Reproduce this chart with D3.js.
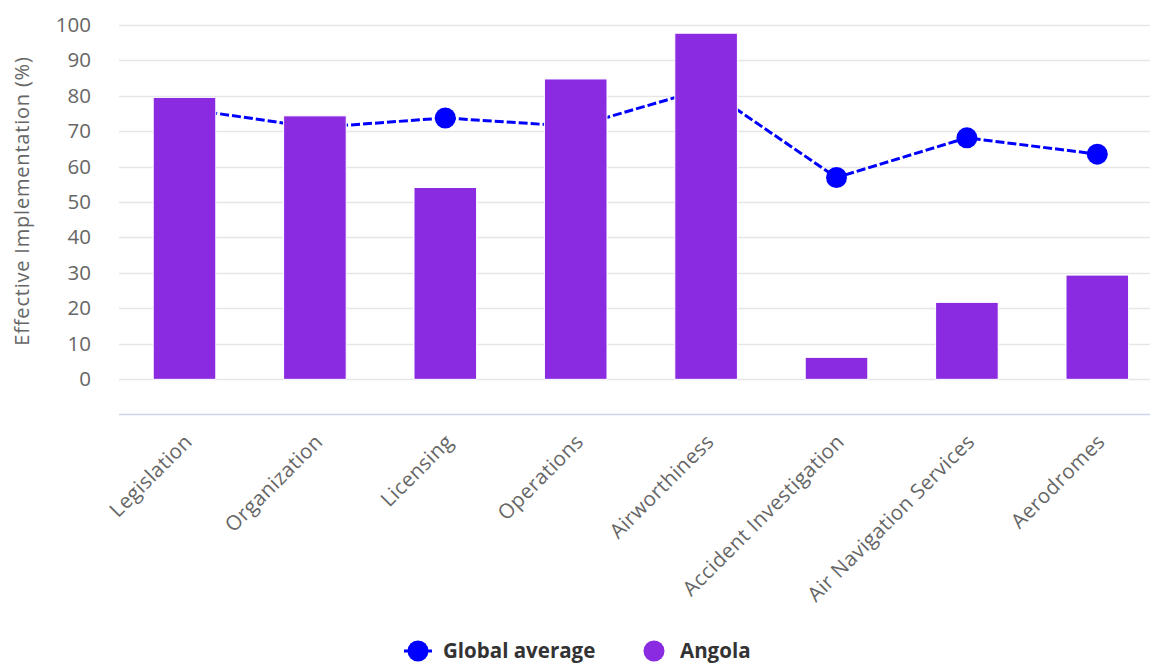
<!DOCTYPE html>
<html>
<head>
<meta charset="utf-8">
<script src="https://cdn.jsdelivr.net/npm/d3@7"></script>
<style>
  body { margin: 0; background: #fff; overflow: hidden; }
  svg { display: block; font-family: "Open Sans", sans-serif; }
</style>
</head>
<body>
<script>
const categories = ["Legislation", "Organization", "Licensing", "Operations",
  "Airworthiness", "Accident Investigation", "Air Navigation Services", "Aerodromes"];
const angola = [79.5, 74.3, 54.1, 84.7, 97.6, 6.2, 21.7, 29.4];
const globalAvg = [76.3, 71.0, 73.7, 71.3, 82.0, 56.9, 68.1, 63.5];
const yTicks = [0, 10, 20, 30, 40, 50, 60, 70, 80, 90, 100];

const w = 1150;
const h = 663;

const svg = d3.select("body")
  .append("svg")
  .attr("width", w)
  .attr("height", h);

const x = d3.scaleBand()
  .domain(categories)
  .range([119.3, 1162.5]);

const y = d3.scaleLinear()
  .domain([-10, 100])
  .range([414.8, 24.7]);

// gridlines
svg.append("g")
  .selectAll("line")
  .data(yTicks)
  .join("line")
  .attr("x1", 119)
  .attr("x2", w)
  .attr("y1", d => Math.round(y(d)) + 0.5)
  .attr("y2", d => Math.round(y(d)) + 0.5)
  .style("stroke", "#e6e6e6")
  .style("stroke-width", 1.5);

// y axis labels
svg.append("g")
  .selectAll("text")
  .data(yTicks)
  .join("text")
  .text(d => d)
  .attr("x", 91)
  .attr("y", d => y(d) + 7)
  .attr("text-anchor", "end")
  .style("font-size", "20.5px")
  .style("fill", "#666");

svg.append("text")
  .text("Effective Implementation (%)")
  .attr("transform", "translate(29,201) rotate(-90)")
  .attr("text-anchor", "middle")
  .style("font-size", "20px")
  .style("letter-spacing", "0.8px")
  .style("fill", "#666");

// x axis line
svg.append("line")
  .attr("x1", 119)
  .attr("x2", w)
  .attr("y1", 414.5)
  .attr("y2", 414.5)
  .style("stroke", "#ccd6eb")
  .style("stroke-width", 1.5);

// x labels
svg.append("g")
  .selectAll("text")
  .data(categories)
  .join("text")
  .text(d => d)
  .attr("transform", d => "translate(" + (x(d) + x.bandwidth() / 2 + 9) + ",443) rotate(-45)")
  .attr("text-anchor", "end")
  .style("font-size", "20.5px")
  .style("letter-spacing", "0.4px")
  .style("fill", "#666");

// global average line (behind bars)
const line = d3.line()
  .x((d, i) => x(categories[i]) + x.bandwidth() / 2)
  .y(d => y(d));

svg.append("path")
  .datum(globalAvg)
  .attr("d", line)
  .style("fill", "none")
  .style("stroke", "#0000ff")
  .style("stroke-width", 3)
  .style("stroke-dasharray", "9,3");

svg.append("g")
  .selectAll("circle")
  .data(globalAvg)
  .join("circle")
  .attr("cx", (d, i) => x(categories[i]) + x.bandwidth() / 2)
  .attr("cy", d => y(d))
  .attr("r", 10.5)
  .style("fill", "#0000ff");

// Angola bars
const barW = x.bandwidth() * 0.48;
svg.append("g")
  .selectAll("rect")
  .data(angola)
  .join("rect")
  .attr("x", (d, i) => x(categories[i]) + (x.bandwidth() - barW) / 2)
  .attr("y", d => y(d))
  .attr("width", barW)
  .attr("height", d => y(0) - y(d))
  .style("fill", "#8a2be2")
  .style("stroke", "#ffffff")
  .style("stroke-width", 1);

// legend
const legend = svg.append("g");
legend.append("line")
  .attr("x1", 404).attr("x2", 432)
  .attr("y1", 651).attr("y2", 651)
  .style("stroke", "#0000ff")
  .style("stroke-width", 3)
  .style("stroke-dasharray", "9,3");
legend.append("circle")
  .attr("cx", 418).attr("cy", 651).attr("r", 10.5)
  .style("fill", "#0000ff");
legend.append("text")
  .text("Global average")
  .attr("x", 443).attr("y", 658)
  .style("font-size", "20.5px")
  .style("font-weight", "bold")
  .style("fill", "#333");
legend.append("circle")
  .attr("cx", 654).attr("cy", 651).attr("r", 10.5)
  .style("fill", "#8a2be2");
legend.append("text")
  .text("Angola")
  .attr("x", 680).attr("y", 658)
  .style("font-size", "20.5px")
  .style("font-weight", "bold")
  .style("fill", "#333");
</script>
</body>
</html>
